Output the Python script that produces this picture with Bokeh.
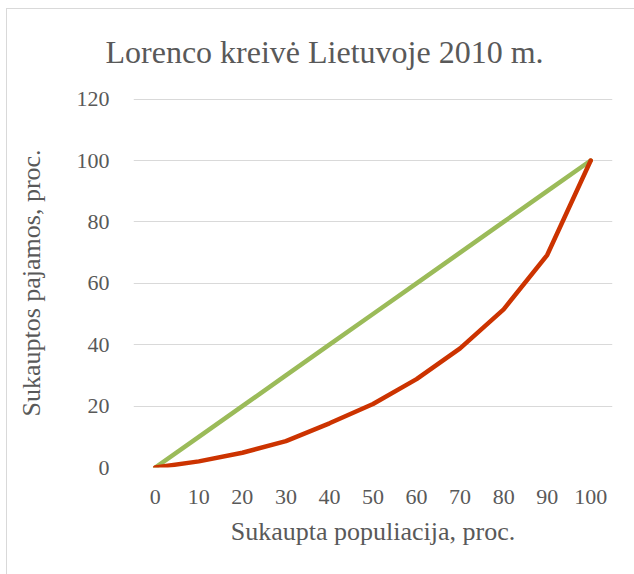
from bokeh.plotting import figure
from bokeh.models import Range1d, FixedTicker
from bokeh.embed import file_html
from bokeh.resources import INLINE

# Data
population = [0, 10, 20, 30, 40, 50, 60, 70, 80, 90, 100]
income = [0, 2.0, 4.8, 8.6, 14.4, 20.7, 28.8, 38.8, 51.5, 69.2, 100]
equality = [0, 10, 20, 30, 40, 50, 60, 70, 80, 90, 100]
y_ticks = [0, 20, 40, 60, 80, 100, 120]
x_ticks = [0, 10, 20, 30, 40, 50, 60, 70, 80, 90, 100]
title_text = "Lorenco kreivė Lietuvoje 2010 m."
x_label = "Sukaupta populiacija, proc."
y_label = "Sukauptos pajamos, proc."

FONT = "Liberation Serif"
TXT = "#595959"

p = figure(width=634, height=574, output_backend="svg", toolbar_location=None,
           x_range=Range1d(-5, 105), y_range=Range1d(0, 120.2),
           min_border_left=133, min_border_right=22,
           min_border_top=98, min_border_bottom=107)
p.outline_line_color = None
p.background_fill_color = "white"
p.border_fill_color = None
# chart-area border: left and top edges, shown through the transparent border area
p.styles = {
    "background": ("linear-gradient(#D9D9D9, #D9D9D9) 6px 8px / 1px 100% no-repeat, "
                   "linear-gradient(#D9D9D9, #D9D9D9) 6px 8px / 100% 1px no-repeat, "
                   "white"),
}

p.title.text = title_text
p.title.text_font = FONT
p.title.text_font_size = "32px"
p.title.text_font_style = "normal"
p.title.text_color = TXT
p.title.align = "left"
p.title.offset = -28
p.title.standoff = 54
p.title.vertical_align = "top"

p.xgrid.grid_line_color = None
p.ygrid.grid_line_color = "#D9D9D9"
p.ygrid.grid_line_width = 1
p.ygrid.ticker = FixedTicker(ticks=y_ticks)

for ax in (p.xaxis[0], p.yaxis[0]):
    ax.axis_line_color = None
    ax.major_tick_line_color = None
    ax.minor_tick_line_color = None
    ax.major_label_text_font = FONT
    ax.major_label_text_font_size = "22px"
    ax.major_label_text_color = TXT
    ax.axis_label_text_font = FONT
    ax.axis_label_text_font_size = "26px"
    ax.axis_label_text_color = TXT
    ax.axis_label_text_font_style = "normal"

p.xaxis.ticker = FixedTicker(ticks=x_ticks)
p.yaxis.ticker = FixedTicker(ticks=y_ticks)
p.xaxis.axis_label = x_label
p.yaxis.axis_label = y_label
p.xaxis.major_label_standoff = 16
p.yaxis.major_label_standoff = 18
p.xaxis.axis_label_standoff = 10
p.yaxis.axis_label_standoff = 28

p.line(population, equality, line_color="#9BBB59", line_width=4.5,
       line_cap="round", line_join="round")
p.line(population, income, line_color="#CC3300", line_width=4.5,
       line_cap="round", line_join="round")

open("out.html", "w").write(file_html(p, INLINE))
